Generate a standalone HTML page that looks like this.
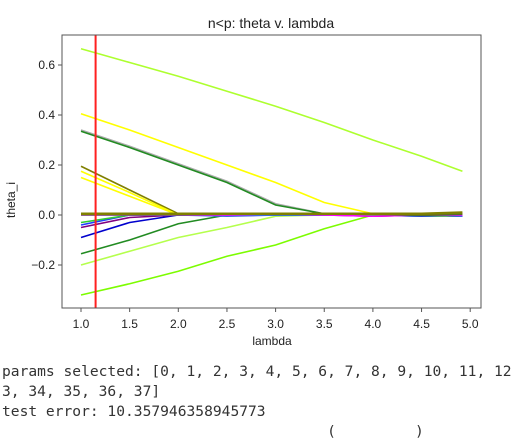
<!DOCTYPE html>
<html><head><meta charset="utf-8"><style>
body{margin:0;background:#fff;width:512px;height:428px;overflow:hidden;position:relative;font-family:"Liberation Sans",sans-serif}
.out{position:absolute;left:2px;font-family:"DejaVu Sans Mono","Liberation Mono",monospace;font-size:14.6px;color:#333;white-space:pre}
</style></head><body>
<svg width="512" height="350" style="position:absolute;left:0;top:0">
<g id="marks"></g>
<rect x="62" y="35" width="419" height="273" fill="none" stroke="#555" stroke-width="1"/>
<text x="271" y="28" text-anchor="middle" font-size="14" fill="#222">n&lt;p: theta v. lambda</text>
<text x="272" y="345" text-anchor="middle" font-size="12" fill="#222">lambda</text>
<text transform="translate(15,200) rotate(-90)" text-anchor="middle" font-size="12" fill="#222">theta_i</text>
<g id="axes"></g>
</svg>
<div class="out" style="top:363px">params selected: [0, 1, 2, 3, 4, 5, 6, 7, 8, 9, 10, 11, 12</div>
<div class="out" style="top:383px">3, 34, 35, 36, 37]</div>
<div class="out" style="top:403px">test error: 10.357946358945773</div>
<div class="out" style="top:423px">                                     (         )</div>
<script>
const lambdas=[1.0,1.5,2.0,2.5,3.0,3.5,4.0,4.5,4.92];
const seriesColors=["#adff2f","#ffff00","#aaaaaa","#228b22","#808000","#ffff00","#ffff00","#7cfc00","#b5ff4d","#228b22","#0000cd","#800080","#1e3cff","#32cd32","#4169e1","#ff00ff","#556b2f","#808000"];
const seriesValues=[
[0.665,0.61,0.555,0.495,0.435,0.37,0.3,0.235,0.175],
[0.405,0.34,0.27,0.2,0.13,0.05,0.005,0.005,0.005],
[0.34,0.275,0.205,0.135,0.045,0.005,0.005,0.0,0.005],
[0.335,0.27,0.2,0.13,0.04,0.005,0.005,0.0,0.0],
[0.195,0.1,0.005,0.005,0.005,0.005,0.005,0.0,0.005],
[0.175,0.09,0.0,0.005,0.0,0.005,0.005,0.005,0.005],
[0.15,0.075,0.0,0.0,0.005,0.0,0.005,0.0,0.0],
[-0.32,-0.275,-0.225,-0.165,-0.12,-0.055,0.0,-0.005,-0.005],
[-0.2,-0.145,-0.09,-0.05,-0.005,0.0,0.0,0.0,0.0],
[-0.155,-0.1,-0.035,0.0,0.0,0.005,0.0,0.0,0.0],
[-0.09,-0.03,0.0,0.0,0.0,0.0,0.0,0.0,-0.005],
[-0.05,-0.01,0.0,0.0,0.0,0.0,-0.005,0.0,0.0],
[-0.04,0.0,0.0,0.0,0.0,0.0,0.0,-0.005,0.0],
[-0.03,0.0,0.0,0.0,0.0,0.0,0.0,0.0,0.0],
[0.0,0.0,0.0,-0.005,0.0,0.0,0.005,0.0,-0.005],
[0.0,0.0,0.0,0.0,0.005,0.0,-0.005,0.0,0.0],
[0.003,0.003,0.003,0.005,0.005,0.005,0.005,0.0,0.005],
[0.005,0.005,0.005,0.005,0.005,0.005,0.005,0.005,0.01]
];
const xTicks=[1.0,1.5,2.0,2.5,3.0,3.5,4.0,4.5,5.0];
const yTicks=[-0.2,0.0,0.2,0.4,0.6];
const selectedLambda=1.15;
const xs=v=>81+(v-1)*97.3, ys=v=>215-v*250;
const NS="http://www.w3.org/2000/svg";
const marks=document.getElementById('marks'), axes=document.getElementById('axes');
seriesValues.forEach((vals,i)=>{
  const p=document.createElementNS(NS,'polyline');
  p.setAttribute('points',vals.map((v,j)=>xs(lambdas[j])+','+ys(v)).join(' '));
  p.setAttribute('fill','none');p.setAttribute('stroke',seriesColors[i]);p.setAttribute('stroke-width',i>=16?2.5:1.6);
  
  
  marks.appendChild(p);
});
const r=document.createElementNS(NS,'line');
r.setAttribute('x1',xs(selectedLambda));r.setAttribute('x2',xs(selectedLambda));r.setAttribute('y1',35);r.setAttribute('y2',308);
r.setAttribute('stroke','#ff2020');r.setAttribute('stroke-width',2);


marks.appendChild(r);
xTicks.forEach(t=>{
  const l=document.createElementNS(NS,'line');
  l.setAttribute('x1',xs(t));l.setAttribute('x2',xs(t));l.setAttribute('y1',308);l.setAttribute('y2',312);l.setAttribute('stroke','#555');
  
  
  axes.appendChild(l);
  const tx=document.createElementNS(NS,'text');
  tx.setAttribute('x',xs(t));tx.setAttribute('y',328);tx.setAttribute('text-anchor','middle');tx.setAttribute('font-size','12');tx.setAttribute('fill','#222');
  tx.textContent=t.toFixed(1);
  
  
  axes.appendChild(tx);
});
yTicks.forEach(t=>{
  const l=document.createElementNS(NS,'line');
  l.setAttribute('x1',58);l.setAttribute('x2',62);l.setAttribute('y1',ys(t));l.setAttribute('y2',ys(t));l.setAttribute('stroke','#555');
  
  
  axes.appendChild(l);
  const tx=document.createElementNS(NS,'text');
  tx.setAttribute('x',55);tx.setAttribute('y',ys(t)+4);tx.setAttribute('text-anchor','end');tx.setAttribute('font-size','12');tx.setAttribute('fill','#222');
  tx.textContent=(t<0?'\u2212':'')+Math.abs(t).toFixed(1);
  
  
  axes.appendChild(tx);
});
</script>
</body></html>
